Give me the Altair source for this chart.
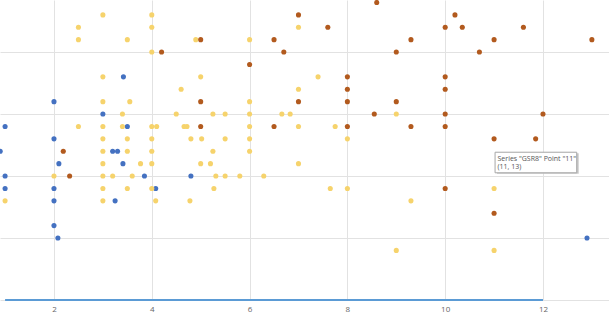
import altair as alt
import pandas as pd

# ---- data ----
blue_x = [0.9, 1.0, 1.0, 1.0, 2.0, 2.0, 2.0, 2.0, 2.0, 2.08, 2.1, 3.0, 3.42, 3.5, 3.2, 3.3, 3.41, 3.85, 3.25, 4.08, 4.8, 12.9]
blue_y = [12, 14, 10, 9, 16, 13, 9, 8, 6, 5, 11, 15, 18, 14, 12, 12, 11, 10, 8, 9, 10, 5]

yellow_x = [3.0, 4.0,
            2.5, 4.0, 7.0,
            2.5, 3.5, 4.9, 6.0,
            4.0,
            3.0, 5.0, 7.4,
            4.6, 7.0,
            3.0, 3.55, 6.0,
            3.4, 4.5, 5.25, 5.5, 6.0, 6.66, 6.83, 9.0,
            2.5, 3.0, 3.4, 4.0, 4.1, 4.66, 4.72, 6.0, 7.0, 7.75,
            3.0, 3.5, 4.0, 4.8, 5.02, 5.5, 6.0, 8.0,
            3.0, 3.5, 4.0, 5.25, 6.0,
            3.0, 3.77, 4.0, 5.0, 5.2, 7.0,
            2.0, 3.0, 3.2, 3.6, 5.31, 5.5, 5.8, 6.29,
            3.0, 3.5, 4.0, 5.27, 7.65, 8.0, 11.0,
            1.0, 3.0, 4.08, 4.78, 9.3,
            9.0, 11.0]
yellow_y = [23, 23,
            22, 22, 22,
            21, 21, 21, 21,
            20,
            18, 18, 18,
            17, 17,
            16, 16, 16,
            15, 15, 15, 15, 15, 15, 15, 15,
            14, 14, 14, 14, 14, 14, 14, 14, 14, 14,
            13, 13, 13, 13, 13, 13, 13, 13,
            12, 12, 12, 12, 12,
            11, 11, 11, 11, 11, 11,
            10, 10, 10, 10, 10, 10, 10, 10,
            9, 9, 9, 9, 9, 9, 9,
            8, 8, 8, 8, 8,
            4, 4]

brown_x = [8.6,
           7.0, 10.2,
           7.6, 10.0, 10.35, 11.6,
           5.0, 6.5, 9.3, 11.0, 13.0,
           4.2, 6.7, 9.0, 10.7,
           6.0,
           8.0, 10.0,
           8.0, 10.0,
           5.0, 7.0, 8.0, 9.0,
           8.55, 10.0, 12.0,
           5.0, 6.5, 8.0, 9.3, 10.0,
           11.0, 11.85,
           2.19,
           2.32,
           10.0,
           11.0]
brown_y = [24,
           23, 23,
           22, 22, 22, 22,
           21, 21, 21, 21, 21,
           20, 20, 20, 20,
           19,
           18, 18,
           17, 17,
           16, 16, 16, 16,
           15, 15, 15,
           14, 14, 14, 14, 14,
           13, 13,
           12,
           10,
           9,
           7]

series_names = ["GSR1", "GSR4", "GSR8"]
series_colors = ["#4471C1", "#F6D36C", "#B25A1E"]

line_x = [1, 12]
line_y = [0, 0]

x_ticks = [2, 4, 6, 8, 10, 12]
y_grid = [0, 5, 10, 15, 20]

tip_line1 = 'Series "GSR8" Point "11"'
tip_line2 = "(11, 13)"

# ---- build tables ----
pts = pd.concat([
    pd.DataFrame({"x": blue_x, "y": blue_y, "s": series_names[0]}),
    pd.DataFrame({"x": yellow_x, "y": yellow_y, "s": series_names[1]}),
    pd.DataFrame({"x": brown_x, "y": brown_y, "s": series_names[2]}),
], ignore_index=True)
line_df = pd.DataFrame({"x": line_x, "y": line_y})

XDOM = [0.896, 13.35]
YDOM = [0, 24.2]

xs = alt.Scale(domain=XDOM, nice=False, zero=False)
ys = alt.Scale(domain=YDOM, nice=False, zero=False)

xaxis = alt.Axis(values=x_ticks, grid=True, gridColor="#E2E2E2", ticks=False,
                 domain=False, labelFontSize=8, labelColor="#666666",
                 labelFont="Open Sans", labelPadding=5, title=None)
yaxis = alt.Axis(values=y_grid, grid=True, gridColor="#E2E2E2", ticks=False,
                 domain=False, labels=False, title=None)


def X(field="x"):
    return alt.X(f"{field}:Q", scale=xs, axis=xaxis)


def Y(field="y"):
    return alt.Y(f"{field}:Q", scale=ys, axis=yaxis)


points = alt.Chart(pts).mark_circle(size=26, opacity=1, clip=True).encode(
    x=X(), y=Y(),
    color=alt.Color("s:N", scale=alt.Scale(domain=series_names, range=series_colors), legend=None),
)

line = alt.Chart(line_df).mark_line(color="#5B9BD5", strokeWidth=2).encode(x=X(), y=Y())

tip_df = pd.DataFrame({"x": [11.02], "x2": [12.69], "y": [11.92], "y2": [10.26]})
shadow_df = pd.DataFrame({"x": [11.06], "x2": [12.73], "y": [11.84], "y2": [10.18]})
shadow = alt.Chart(shadow_df).mark_rect(fill="#C8C8C8").encode(
    x=X(), x2="x2", y=Y(), y2="y2")
box = alt.Chart(tip_df).mark_rect(fill="white", stroke="#A6A6A6", strokeWidth=1).encode(
    x=X(), x2="x2", y=Y(), y2="y2")
txt_df = pd.DataFrame({"x": [11.07, 11.07], "y": [11.41, 10.74], "t": [tip_line1, tip_line2]})
txt = alt.Chart(txt_df).mark_text(align="left", baseline="middle", fontSize=7,
                                  font="Open Sans", color="#555555").encode(
    x=X(), y=Y(), text="t:N")

chart = alt.layer(points, line, shadow, box, txt).properties(
    width=609, height=300, padding=0, autosize=alt.AutoSizeParams(type="pad")
).configure_view(stroke=None).configure_axis(domain=False)

chart.save("out.html", embed_options={"renderer": "svg", "actions": False})
